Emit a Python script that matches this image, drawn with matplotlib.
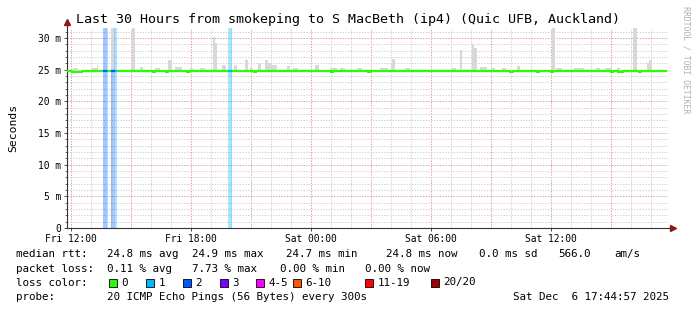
import numpy as np
import matplotlib
matplotlib.use("Agg")
import matplotlib.pyplot as plt
from matplotlib.patches import Rectangle

plt.rcParams['font.family'] = ['DejaVu Sans Mono']
plt.rcParams['lines.scale_dashes'] = False

# time axis: hours since Fri 00:00
t_start, t_end = 11.8, 41.85
t_last = 41.75
tick_hours = [12, 18, 24, 30, 36]
tick_labels = ['Fri 12:00', 'Fri 18:00', 'Sat 00:00', 'Sat 06:00', 'Sat 12:00']

y_top = 31.58
y_ticks = [0, 5, 10, 15, 20, 25, 30]
y_labels = ['0', '5 m', '10 m', '15 m', '20 m', '25 m', '30 m']

# median rtt (ms): base value and short dips
median_base = 24.8
dip_start = [12.05, 16.10, 16.73, 17.80, 21.15, 24.98, 26.85, 33.95, 35.30, 36.00, 38.98, 39.35, 40.40]
dip_end   = [12.55, 16.20, 16.83, 17.90, 21.25, 25.08, 26.95, 34.10, 35.40, 36.10, 39.08, 39.60, 40.50]
dip_value = [24.6, 24.6, 24.6, 24.6, 24.6, 24.6, 24.6, 24.6, 24.6, 24.6, 24.6, 24.6, 24.6]

# smoke (spread of pings): start, end, top (ms)
smoke_start = [12.10, 13.05, 13.28, 14.00, 15.03, 15.45, 16.20, 16.85, 17.20, 17.95, 18.45, 19.08,
               19.20, 19.55, 20.15, 20.70, 20.95, 21.35, 21.70, 21.87, 22.00, 22.80, 23.10, 24.18,
               24.95, 25.45, 26.30, 27.45, 27.98, 28.05, 28.70, 31.05, 31.43, 32.07, 32.15, 32.45,
               33.00, 33.55, 34.28, 36.03, 36.25, 37.15, 38.25, 38.70, 39.30, 40.08, 40.78, 40.90]
smoke_end   = [12.35, 13.30, 13.35, 14.16, 15.20, 15.60, 16.45, 17.03, 17.55, 18.10, 18.70, 19.20,
               19.28, 19.75, 20.30, 20.87, 21.10, 21.48, 21.87, 22.00, 22.30, 22.95, 23.35, 24.40,
               25.30, 25.70, 26.55, 27.85, 28.05, 28.18, 28.95, 31.23, 31.57, 32.15, 32.28, 32.80,
               33.20, 33.75, 34.45, 36.20, 36.55, 37.65, 38.45, 39.05, 39.45, 40.28, 40.90, 41.05]
smoke_top   = [25.25, 25.3, 25.7, 31.6, 31.6, 25.4, 25.3, 26.6, 25.35, 25.3, 25.3, 30.2,
               29.2, 25.8, 25.8, 26.6, 25.3, 26.0, 26.6, 26.0, 25.8, 25.6, 25.3, 25.8,
               25.3, 25.3, 25.3, 25.3, 26.0, 26.7, 25.3, 25.3, 28.1, 29.0, 28.4, 25.4,
               25.3, 25.3, 25.6, 31.6, 25.3, 25.3, 25.3, 25.3, 25.3, 31.6, 26.0, 26.5]
smoke_bottom = 24.6

# packet loss periods: start, end, lost pings
loss_start = [13.60, 13.78, 13.98, 14.22, 19.83]
loss_end   = [13.78, 13.84, 14.22, 14.28, 20.03]
loss_pings = [2, 1, 2, 1, 1]

loss_names  = ['0', '1', '2', '3', '4-5', '6-10', '11-19', '20/20']
loss_colors = ['#26ff00', '#00b8ff', '#0059ff', '#7e00ff', '#ff00ff', '#ff5500', '#ff0000', '#a10000']

fig = plt.figure(figsize=(6.97, 3.10), dpi=100)
W, H = 697.0, 310.0
ax = fig.add_axes([67 / W, (H - 228) / H, 601 / W, 200 / H])
ax.set_xlim(t_start, t_end)
ax.set_ylim(0, y_top)

# grid
for h in range(12, 42):
    c = '#e5a0a0' if h % 3 == 0 else '#d2d2d2'
    ax.axvline(h, color=c, lw=0.72, ls=(0, (1, 1)), zorder=0)
for m in range(1, 32):
    c = '#e5a0a0' if m % 5 == 0 else '#d2d2d2'
    ax.axhline(m, color=c, lw=0.72, ls=(0, (1, 1)), zorder=0)

# loss bars
for s, e, p in zip(loss_start, loss_end, loss_pings):
    ax.axvspan(s, e, color=loss_colors[p], alpha=0.35, lw=0, zorder=1)

# smoke
ax.bar(smoke_start, np.array(smoke_top) - smoke_bottom,
       width=np.array(smoke_end) - np.array(smoke_start),
       bottom=smoke_bottom, align='edge', color='#d8d8d8', lw=0, zorder=2)

# median line
tt = [t_start]
vv = [median_base]
for s, e, v in zip(dip_start, dip_end, dip_value):
    tt += [s, e]
    vv += [v, median_base]
tt.append(t_last)
vv.append(median_base)
ax.step(tt, vv, where='post', color=loss_colors[0], lw=1.6, zorder=3)
for s, e, p in zip(loss_start, loss_end, loss_pings):
    ax.hlines(median_base, s, e, color=loss_colors[p], lw=1.6, zorder=4)

# axes styling
for sp in ['top', 'right']:
    ax.spines[sp].set_visible(False)
for sp in ['left', 'bottom']:
    ax.spines[sp].set_color('#333333')
    ax.spines[sp].set_linewidth(0.8)
ax.set_xticks(tick_hours)
ax.set_xticklabels(tick_labels, fontsize=6.9)
ax.set_xticks(range(12, 42), minor=True)
ax.set_yticks(y_ticks)
ax.set_yticklabels(y_labels, fontsize=6.9)
ax.set_yticks(range(0, 32), minor=True)
ax.tick_params(axis='both', which='major', length=2.5, width=0.6, color='#333333', pad=2)
ax.tick_params(axis='both', which='minor', length=1.5, width=0.5, color='#333333')
ax.tick_params(axis='x', which='minor', length=0)
ax.set_ylabel('Seconds', fontsize=8.2, labelpad=14)

# axis arrows
ax.plot([0, 0], [1, 1.03], transform=ax.transAxes, color='#333333', lw=0.8, clip_on=False)
ax.plot([1, 1.005], [0, 0], transform=ax.transAxes, color='#333333', lw=0.8, clip_on=False)
ax.plot([0], [1.03], marker='^', ms=4, color='#8b1a1a', transform=ax.transAxes, clip_on=False)
ax.plot([1.008], [0], marker='>', ms=4, color='#8b1a1a', transform=ax.transAxes, clip_on=False)

# title and side text
fig.text(348 / W, 1 - 19 / H, 'Last 30 Hours from smokeping to S MacBeth (ip4) (Quic UFB, Auckland)',
         ha='center', va='center', fontsize=9.6)
fig.text(686 / W, 1 - 60 / H, 'RRDTOOL / TOBI OETIKER', rotation=270, ha='center', va='center',
         fontsize=5.9, color='#b0b0b0')

# legend
fs = 7.8
def put(x, y, s):
    fig.text(x / W, 1 - y / H, s, ha='left', va='center', fontsize=fs)

put(16, 254, 'median rtt:')
for x, s in zip([107, 192, 286, 386, 479, 558, 614],
                ['24.8 ms avg', '24.9 ms max', '24.7 ms min', '24.8 ms now', '0.0 ms sd', '566.0', 'am/s']):
    put(x, 254, s)
put(16, 268.5, 'packet loss:')
for x, s in zip([107, 192, 280, 365], ['0.11 % avg', '7.73 % max', '0.00 % min', '0.00 % now']):
    put(x, 268.5, s)
put(16, 282.5, 'loss color:')
for x, name, c in zip([109, 146, 183, 219.5, 256, 292.5, 365, 431], loss_names, loss_colors):
    fig.patches.append(Rectangle((x / W, 1 - 286.5 / H), 8 / W, 8 / H, transform=fig.transFigure,
                                 facecolor=c, edgecolor='black', lw=0.6))
    put(x + 12.5, 282.5, name)
put(16, 296.5, 'probe:')
put(107, 296.5, '20 ICMP Echo Pings (56 Bytes) every 300s')
put(513, 296.5, 'Sat Dec  6 17:44:57 2025')

fig.savefig('out.png', dpi=100)
